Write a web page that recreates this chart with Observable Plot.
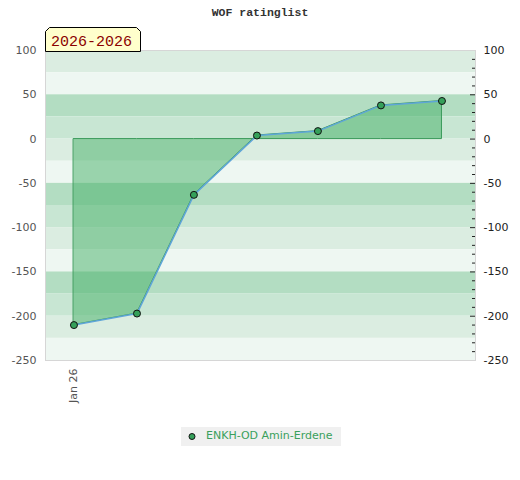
<!DOCTYPE html>
<html>
<head>
<meta charset="utf-8">
<script src="https://cdn.jsdelivr.net/npm/d3@7"></script>
<script src="https://cdn.jsdelivr.net/npm/@observablehq/plot@0.6"></script>
<style>
  html, body { margin: 0; padding: 0; background: #fff; }
  #wrap { position: relative; width: 520px; height: 480px; font-family: "DejaVu Sans", sans-serif; }
  #title { position: absolute; left: 0; top: 6px; width: 520px; text-align: center; font: bold 11.5px "Liberation Mono", monospace; line-height: 13px; color: #333; }
  #badge { position: absolute; left: 45px; top: 27px; }
  #legend { position: absolute; left: 181px; top: 427px; width: 160px; height: 19px; background: #f0f0f0; }
  #legend svg { position: absolute; left: 0; top: 0; }
  #legend span { position: absolute; left: 25px; top: 2px; font: 11px "DejaVu Sans", sans-serif; color: #3aa05c; white-space: nowrap; }
  #chart { position: absolute; left: 0; top: 0; }
</style>
</head>
<body>
<div id="wrap">
  <div id="chart"></div>
  <div id="title"></div>
  <svg id="badge" width="97" height="25"></svg>
  <div id="legend"></div>
</div>
<script>
// ---- data ----
const title = "WOF ratinglist";
const periodLabel = "2026-2026";
const playerName = "ENKH-OD Amin-Erdene";
const months = ["2026-01-01", "2026-02-01", "2026-03-01", "2026-04-01", "2026-05-01", "2026-06-01", "2026-07-01"];
const ratings = [-210, -197, -63, 4, 9, 38, 43];
const yMajorTicks = [100, 50, 0, -50, -100, -150, -200, -250];
const yMinorTicks = [90, 80, 70, 60, 40, 30, 20, 10, -10, -20, -30, -40, -60, -70, -80, -90, -110, -120, -130, -140, -160, -170, -180, -190, -210, -220, -230, -240];
const xTickDates = ["2026-01-01"];
const xTickLabels = ["Jan 26"];
const bandTops = [100, 75, 50, 25, 0, -25, -50, -75, -100, -125, -150, -175, -200, -225];
const bandColors = ["#dbede1", "#eef7f2", "#b3ddc2", "#c8e6d3", "#dbede1", "#eef7f2", "#b3ddc2", "#c8e6d3", "#dbede1", "#eef7f2", "#b3ddc2", "#c8e6d3", "#dbede1", "#eef7f2"];
const bandSize = 25;

const data = months.map((m, i) => ({date: new Date(m + "T00:00:00Z"), r: ratings[i]}));
const bands = bandTops.map((t, i) => ({top: t, bottom: t - bandSize, color: bandColors[i]}));
const tickDates = xTickDates.map(d => new Date(d + "T00:00:00Z"));

const W = 520, ML = 45, MR = 45;
const frameW = W - ML - MR;

const chart = Plot.plot({
  width: W,
  height: 480,
  marginTop: 50,
  marginBottom: 120,
  marginLeft: ML,
  marginRight: MR,
  style: {fontFamily: "DejaVu Sans, sans-serif", fontSize: "11px", background: "transparent"},
  x: {type: "utc", domain: [new Date(Date.UTC(2025, 11, 18)), new Date(Date.UTC(2026, 6, 17, 12))]},
  y: {domain: [-250, 100]},
  color: {type: "identity"},
  marks: [
    Plot.rect(bands, {y1: "top", y2: "bottom", fill: "color"}),
    Plot.areaY(data, {x: "date", y: "r", fill: "#44af66", fillOpacity: 0.5, stroke: "#3a9a5a", strokeWidth: 1}),
    Plot.line(data, {x: "date", y: "r", stroke: "#5ea5d8", strokeWidth: 1.5}),
    Plot.dot(data, {x: "date", y: "r", r: 3.5, fill: "#35a05a", stroke: "#111", strokeWidth: 1}),
    Plot.frame({stroke: "#d6d6d6"}),
    Plot.tickY(yMinorTicks, {y: d => d, insetLeft: frameW - 3, stroke: "#222"}),
    Plot.tickY(yMajorTicks.filter(d => d !== 100 && d !== -250), {y: d => d, insetLeft: frameW - 5, stroke: "#222"}),
    Plot.axisY({anchor: "left", ticks: yMajorTicks, tickSize: 0, tickPadding: 9, fill: "#555", tickFormat: d => String(d), label: null}),
    Plot.axisY({anchor: "right", ticks: yMajorTicks, tickSize: 0, tickPadding: 8, fill: "#222", tickFormat: d => String(d), label: null}),
    Plot.axisX({ticks: tickDates, tickFormat: (d, i) => xTickLabels[i], tickRotate: -90, tickSize: 0, tickPadding: 8, fill: "#555", label: null})
  ]
});
document.getElementById("chart").appendChild(chart);

document.getElementById("title").textContent = title;

// badge
const badge = d3.select("#badge");
badge.append("polygon")
  .attr("points", "0.5,24.5 0.5,4.5 4.5,0.5 91.5,0.5 95.5,4.5 95.5,24.5")
  .attr("fill", "#ffffcc").attr("stroke", "#000").attr("stroke-width", 1);
badge.append("text")
  .attr("x", 6).attr("y", 19)
  .attr("font-family", "Liberation Mono, monospace").attr("font-size", 15)
  .attr("fill", "#8b0000").text(periodLabel);

// legend
const legend = d3.select("#legend");
const ls = legend.append("svg").attr("width", 24).attr("height", 19);
ls.append("circle").attr("cx", 11).attr("cy", 9.5).attr("r", 3).attr("fill", "#35a05a").attr("stroke", "#111").attr("stroke-width", 1);
legend.append("span").text(playerName);
</script>
</body>
</html>
